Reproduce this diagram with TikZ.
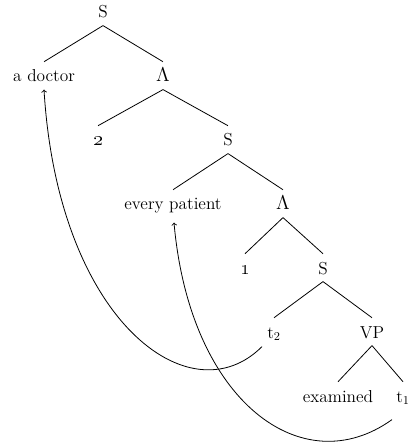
\documentclass[tikz,border=0pt]{standalone}
\usepackage{graphicx}
\begin{document}
\begin{tikzpicture}[x=0.75pt,y=-0.75pt,
  lab/.style={anchor=base, font=\fontsize{13}{15}\selectfont, inner sep=2.5pt, text height=12.5pt, text depth=3pt},
  edge/.style={line width=0.6pt},
  move/.style={->, line width=0.6pt}]
\useasboundingbox (0,0) rectangle (408,448);
\node[lab] (s0) at (103,18) {S};
\node[lab] (doc) at (44,82) {a doctor};
\node[lab] (l1) at (163,82) {\scalebox{1.25}{$\Lambda$}};
\node[lab] (n2) at (98,146) {\scalebox{1.25}{\oldstylenums{2}}};
\node[lab] (s2) at (228,146) {S};
\node[lab] (pat) at (173,210) {every patient};
\node[lab] (l3) at (283,210) {\scalebox{1.25}{$\Lambda$}};
\node[lab] (n1) at (245,274) {\scalebox{1.25}{\oldstylenums{1}}};
\node[lab] (s4) at (323,274) {S};
\node[lab] (t2) at (274,338) {t$_2$};
\node[lab] (vp) at (372,338) {VP};
\node[lab] (ex) at (338,402) {examined};
\node[lab] (t1) at (403,402) {t$_1$};
\draw[edge] (s0.south) -- (doc.north);
\draw[edge] (s0.south) -- (l1.north);
\draw[edge] (l1.south) -- (n2.north);
\draw[edge] (l1.south) -- (s2.north);
\draw[edge] (s2.south) -- (pat.north);
\draw[edge] (s2.south) -- (l3.north);
\draw[edge] (l3.south) -- (n1.north);
\draw[edge] (l3.south) -- (s4.north);
\draw[edge] (s4.south) -- (t2.north);
\draw[edge] (s4.south) -- (vp.north);
\draw[edge] (vp.south) -- (ex.north);
\draw[edge] (vp.south) -- (t1.north);
\draw[move] ([shift={(-12,1)}]t2.south) .. controls +(-72,72) and +(14,231) .. (doc.south);
\draw[move] ([shift={(-11,10)}]t1.south) .. controls +(-89,64) and +(16,180) .. ([shift={(1,5)}]pat.south);
\end{tikzpicture}
\end{document}
